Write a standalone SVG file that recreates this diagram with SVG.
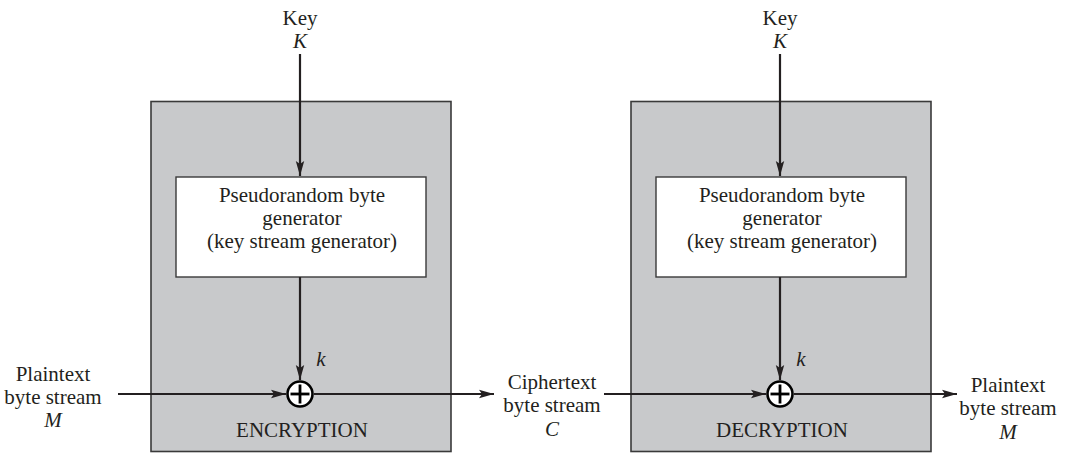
<svg xmlns="http://www.w3.org/2000/svg" width="1071" height="454" viewBox="0 0 1071 454">
<style>
.panel{fill:#c8c9cb;stroke:#3a3a3a;stroke-width:1.6}
.gen{fill:#ffffff;stroke:#3a3a3a;stroke-width:1.4}
.t{font-family:"Liberation Serif","Times New Roman",serif;font-size:21px;fill:#231f20;text-anchor:middle}
.i{font-style:italic}
.ln{stroke:#231f20;stroke-width:2.2;fill:none}
.xor{fill:#ffffff;stroke:#000;stroke-width:2.6}
.plus{stroke:#000;stroke-width:2.8}
</style>
<defs>
<marker id="ah" markerWidth="16" markerHeight="10" refX="15" refY="5" orient="auto" markerUnits="userSpaceOnUse">
<path d="M0,0.8 L15,5 L0,9.2 L3,5 Z" fill="#231f20"/>
</marker>
</defs>
<rect width="1071" height="454" fill="#ffffff"/>
<g id="enc">
<rect class="panel" x="151" y="101.5" width="300" height="350"/>
<text class="t" x="302" y="437">ENCRYPTION</text>
</g>
<g id="dec">
<rect class="panel" x="631" y="101.5" width="300" height="350"/>
<text class="t" x="782" y="437">DECRYPTION</text>
</g>
<g id="gen1">
<rect class="gen" x="176" y="177" width="250" height="100"/>
<text class="t" x="302" y="202">Pseudorandom byte</text>
<text class="t" x="302" y="225">generator</text>
<text class="t" x="302" y="248">(key stream generator)</text>
</g>
<g id="gen2">
<rect class="gen" x="656" y="177" width="250" height="100"/>
<text class="t" x="782" y="202">Pseudorandom byte</text>
<text class="t" x="782" y="225">generator</text>
<text class="t" x="782" y="248">(key stream generator)</text>
</g>
<g id="key1">
<text class="t" x="300" y="25">Key</text>
<text class="t i" x="300" y="48">K</text>
</g>
<g id="key2">
<text class="t" x="780" y="25">Key</text>
<text class="t i" x="780" y="48">K</text>
</g>
<g id="pin">
<text class="t" x="53" y="381">Plaintext</text>
<text class="t" x="53" y="404">byte stream</text>
<text class="t i" x="53" y="427">M</text>
</g>
<g id="cipher">
<text class="t" x="552" y="389">Ciphertext</text>
<text class="t" x="552" y="412">byte stream</text>
<text class="t i" x="552" y="436">C</text>
</g>
<g id="pout">
<text class="t" x="1008" y="392">Plaintext</text>
<text class="t" x="1008" y="415">byte stream</text>
<text class="t i" x="1008" y="439">M</text>
</g>
<g id="connectors">
<line class="ln" x1="300" y1="54" x2="300" y2="176" marker-end="url(#ah)"/>
<line class="ln" x1="780" y1="54" x2="780" y2="176" marker-end="url(#ah)"/>
<line class="ln" x1="300" y1="277" x2="300" y2="380" marker-end="url(#ah)"/>
<line class="ln" x1="780" y1="277" x2="780" y2="380" marker-end="url(#ah)"/>
<line class="ln" x1="118" y1="394" x2="286" y2="394" marker-end="url(#ah)"/>
<line class="ln" x1="314" y1="394" x2="494" y2="394" marker-end="url(#ah)"/>
<line class="ln" x1="604" y1="394" x2="766" y2="394" marker-end="url(#ah)"/>
<line class="ln" x1="794" y1="394" x2="957" y2="394" marker-end="url(#ah)"/>
<text class="t i" x="321" y="366">k</text>
<text class="t i" x="801" y="366">k</text>
</g>
<g id="xor1">
<circle class="xor" cx="300" cy="394" r="12.5"/>
<line class="plus" x1="290.5" y1="394" x2="309.5" y2="394"/>
<line class="plus" x1="300" y1="384.5" x2="300" y2="403.5"/>
</g>
<g id="xor2">
<circle class="xor" cx="780" cy="394" r="12.5"/>
<line class="plus" x1="770.5" y1="394" x2="789.5" y2="394"/>
<line class="plus" x1="780" y1="384.5" x2="780" y2="403.5"/>
</g>
</svg>
